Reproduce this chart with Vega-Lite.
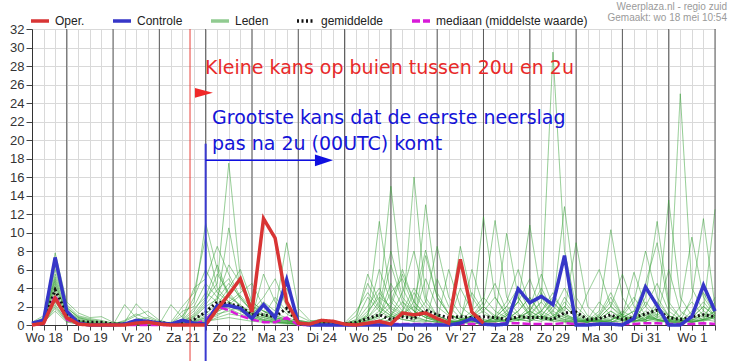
{
  "$schema": "https://vega.github.io/schema/vega-lite/v6.json",
  "width": 683,
  "height": 296,
  "autosize": {"type": "none"},
  "padding": {"left": 32, "top": 29, "right": 21, "bottom": 36},
  "background": "white",
  "config": {
    "view": {"stroke": "#555", "strokeWidth": 1},
    "font": "Liberation Sans",
    "axis": {
      "gridColor": "#d9d9d9",
      "gridOpacity": 1,
      "domainColor": "#333",
      "tickColor": "#444",
      "labelFont": "Liberation Sans",
      "labelFontSize": 13,
      "labelColor": "#333",
      "labelOverlap": false,
      "labelFlush": false
    },
    "axisX": {"labelPadding": 1},
    "axisY": {"labelPadding": 2}
  },
  "title": {
    "text": "Weerplaza.nl - regio zuid",
    "subtitle": "Gemaakt: wo 18 mei 10:54",
    "anchor": "end",
    "frame": "group",
    "font": "Liberation Sans",
    "subtitleFont": "Liberation Sans",
    "fontSize": 10,
    "fontWeight": "normal",
    "color": "#9a9a9a",
    "subtitleFontSize": 10,
    "subtitleColor": "#9a9a9a",
    "subtitlePadding": 1,
    "offset": 4,
    "dx": 12,
    "dy": 17
  },
  "data": {"values": [
    {"t":6,"oper":0,"ctrl":0.2,"gem":0.1,"med":0,"m1":0,"m2":0,"m3":0.2,"m4":0,"m5":0,"m6":0.1,"m7":0,"m8":0,"m9":0.3,"m10":0,"m11":0,"m12":0,"m13":0.1,"m14":0,"m15":0,"m16":0.2,"m17":0,"m18":0,"m19":0,"m20":0},
    {"t":12,"oper":0.2,"ctrl":0.5,"gem":0.4,"med":0.1,"m1":0.3,"m2":0.5,"m3":0.8,"m4":0.2,"m5":0.4,"m6":0.6,"m7":0.3,"m8":0.2,"m9":1.0,"m10":0.5,"m11":0.4,"m12":0.3,"m13":0.7,"m14":0.2,"m15":0.5,"m16":0.6,"m17":0.3,"m18":0.4,"m19":0.2,"m20":0.5},
    {"t":18,"oper":2.9,"ctrl":7.3,"gem":3.8,"med":3.2,"m1":3.5,"m2":5.2,"m3":7.8,"m4":2.8,"m5":4.1,"m6":6.0,"m7":3.0,"m8":1.8,"m9":4.8,"m10":5.5,"m11":2.2,"m12":3.9,"m13":6.5,"m14":2.5,"m15":4.4,"m16":3.2,"m17":1.5,"m18":5.0,"m19":2.0,"m20":4.6},
    {"t":24,"oper":0.8,"ctrl":1.5,"gem":1.2,"med":0.6,"m1":1.2,"m2":2.0,"m3":2.5,"m4":0.8,"m5":1.5,"m6":1.8,"m7":0.6,"m8":0.4,"m9":1.4,"m10":2.2,"m11":0.5,"m12":1.0,"m13":1.9,"m14":0.7,"m15":1.3,"m16":0.9,"m17":0.3,"m18":1.6,"m19":0.5,"m20":1.1},
    {"t":30,"oper":0.1,"ctrl":0.2,"gem":0.4,"med":0.1,"m1":0.4,"m2":0.8,"m3":1.3,"m4":0.2,"m5":0.6,"m6":0.9,"m7":0.2,"m8":0.1,"m9":0.5,"m10":1.0,"m11":0.2,"m12":0.4,"m13":0.8,"m14":0.2,"m15":0.5,"m16":0.3,"m17":0.1,"m18":0.7,"m19":0.2,"m20":0.4},
    {"t":36,"oper":0,"ctrl":0,"gem":0.3,"med":0,"m1":0.2,"m2":0.5,"m3":0.8,"m4":0.1,"m5":0.3,"m6":0.6,"m7":0.1,"m8":0,"m9":0.3,"m10":0.7,"m11":0.1,"m12":0.2,"m13":0.5,"m14":0.1,"m15":0.2,"m16":0.2,"m17":0,"m18":0.4,"m19":0.1,"m20":0.2},
    {"t":42,"oper":0,"ctrl":0,"gem":0.3,"med":0,"m1":0.1,"m2":0.3,"m3":0.9,"m4":0,"m5":0.2,"m6":0.4,"m7":0,"m8":0,"m9":0.1,"m10":0.5,"m11":0,"m12":0.1,"m13":0.3,"m14":0,"m15":0.1,"m16":0.1,"m17":0,"m18":0.2,"m19":0,"m20":0.1},
    {"t":48,"oper":0,"ctrl":0,"gem":0.1,"med":0,"m1":0,"m2":0.1,"m3":0.3,"m4":0,"m5":0.1,"m6":0.2,"m7":0,"m8":0,"m9":0,"m10":0.2,"m11":0,"m12":0,"m13":0.1,"m14":0,"m15":0,"m16":0,"m17":0,"m18":0.1,"m19":0,"m20":0},
    {"t":54,"oper":0,"ctrl":0.1,"gem":0.1,"med":0,"m1":0,"m2":0,"m3":0.2,"m4":0,"m5":0,"m6":0.1,"m7":0,"m8":2.2,"m9":0,"m10":0.3,"m11":0,"m12":0,"m13":0.5,"m14":0,"m15":0,"m16":0,"m17":0,"m18":0.4,"m19":0,"m20":0},
    {"t":60,"oper":0.2,"ctrl":0.5,"gem":0.2,"med":0,"m1":0.1,"m2":0.3,"m3":0.5,"m4":0,"m5":0.2,"m6":0.6,"m7":0,"m8":0.8,"m9":0.2,"m10":2.3,"m11":0.1,"m12":0.3,"m13":1.2,"m14":0,"m15":0.4,"m16":0.2,"m17":0,"m18":1.0,"m19":0.1,"m20":0.3},
    {"t":66,"oper":0.3,"ctrl":0.4,"gem":0.3,"med":0,"m1":0.2,"m2":0.5,"m3":0.4,"m4":0.1,"m5":0.3,"m6":0.8,"m7":0,"m8":0.3,"m9":0.3,"m10":1.0,"m11":0.2,"m12":0.4,"m13":0.6,"m14":0.1,"m15":0.5,"m16":0.3,"m17":0.1,"m18":1.5,"m19":0.2,"m20":0.4},
    {"t":72,"oper":0.1,"ctrl":0.2,"gem":0.3,"med":0,"m1":0.1,"m2":0.2,"m3":0.2,"m4":0,"m5":0.1,"m6":0.3,"m7":0,"m8":0.1,"m9":0.1,"m10":0.4,"m11":0.1,"m12":0.2,"m13":0.2,"m14":0,"m15":0.2,"m16":0.1,"m17":0,"m18":0.5,"m19":0.1,"m20":0.2},
    {"t":78,"oper":0,"ctrl":0.1,"gem":0.1,"med":0,"m1":0,"m2":0.1,"m3":0.1,"m4":0,"m5":0,"m6":0.2,"m7":0,"m8":0,"m9":2.2,"m10":0.1,"m11":0,"m12":0.1,"m13":0.1,"m14":0,"m15":0.3,"m16":0,"m17":0,"m18":0.2,"m19":0,"m20":0.1},
    {"t":84,"oper":0,"ctrl":0.5,"gem":0.2,"med":0,"m1":0.2,"m2":0.4,"m3":0.6,"m4":0.1,"m5":0.3,"m6":1.0,"m7":0.1,"m8":0,"m9":0.8,"m10":0.5,"m11":0.2,"m12":0.4,"m13":1.5,"m14":0.1,"m15":2.0,"m16":0.3,"m17":0.1,"m18":0.6,"m19":0.2,"m20":0.4},
    {"t":90,"oper":0,"ctrl":0.2,"gem":0.6,"med":0.1,"m1":0.5,"m2":1.2,"m3":3.0,"m4":0.2,"m5":0.8,"m6":2.5,"m7":0.3,"m8":0.1,"m9":4.0,"m10":1.5,"m11":0.4,"m12":1.0,"m13":2.0,"m14":0.3,"m15":3.5,"m16":0.6,"m17":0.2,"m18":1.8,"m19":0.4,"m20":0.9},
    {"t":96,"oper":0,"ctrl":0.1,"gem":1.4,"med":0.5,"m1":1.5,"m2":2.8,"m3":6.0,"m4":0.5,"m5":2.0,"m6":11.0,"m7":0.8,"m8":0.3,"m9":5.0,"m10":3.5,"m11":1.0,"m12":2.5,"m13":4.5,"m14":0.6,"m15":9.5,"m16":1.2,"m17":0.4,"m18":3.0,"m19":0.8,"m20":2.2},
    {"t":102,"oper":1.7,"ctrl":2.1,"gem":2.5,"med":2.0,"m1":3.0,"m2":4.5,"m3":3.5,"m4":1.2,"m5":2.8,"m6":6.0,"m7":1.5,"m8":0.8,"m9":8.5,"m10":2.5,"m11":1.8,"m12":5.5,"m13":3.0,"m14":1.0,"m15":4.0,"m16":2.2,"m17":0.6,"m18":6.5,"m19":1.4,"m20":3.8},
    {"t":108,"oper":3.3,"ctrl":2.1,"gem":2.3,"med":1.6,"m1":2.0,"m2":17.5,"m3":2.5,"m4":1.5,"m5":4.5,"m6":3.0,"m7":2.0,"m8":1.2,"m9":5.5,"m10":10.5,"m11":2.5,"m12":3.5,"m13":6.5,"m14":1.8,"m15":2.5,"m16":4.0,"m17":0.8,"m18":3.2,"m19":2.2,"m20":5.0},
    {"t":114,"oper":5.0,"ctrl":1.8,"gem":2.0,"med":1.0,"m1":1.5,"m2":5.0,"m3":1.8,"m4":2.0,"m5":3.0,"m6":2.2,"m7":1.8,"m8":1.0,"m9":3.0,"m10":4.0,"m11":3.5,"m12":2.0,"m13":4.5,"m14":1.2,"m15":1.5,"m16":6.0,"m17":0.6,"m18":2.0,"m19":3.2,"m20":2.8},
    {"t":120,"oper":1.4,"ctrl":0.7,"gem":1.1,"med":0.6,"m1":0.8,"m2":2.0,"m3":1.0,"m4":1.5,"m5":1.5,"m6":1.0,"m7":1.2,"m8":0.6,"m9":1.5,"m10":2.5,"m11":4.5,"m12":1.0,"m13":2.0,"m14":0.8,"m15":0.8,"m16":2.5,"m17":0.4,"m18":1.2,"m19":1.8,"m20":1.5},
    {"t":126,"oper":11.5,"ctrl":2.2,"gem":1.1,"med":0.3,"m1":0.5,"m2":1.5,"m3":0.8,"m4":3.0,"m5":1.0,"m6":0.6,"m7":2.5,"m8":0.4,"m9":1.0,"m10":1.5,"m11":2.0,"m12":0.6,"m13":1.2,"m14":5.5,"m15":0.5,"m16":1.5,"m17":0.3,"m18":0.8,"m19":1.0,"m20":1.0},
    {"t":132,"oper":9.4,"ctrl":0.8,"gem":0.9,"med":0.3,"m1":0.3,"m2":1.0,"m3":0.5,"m4":5.0,"m5":0.8,"m6":0.4,"m7":1.5,"m8":0.3,"m9":0.6,"m10":1.0,"m11":1.2,"m12":0.4,"m13":0.8,"m14":2.5,"m15":0.3,"m16":0.8,"m17":0.2,"m18":0.5,"m19":0.6,"m20":3.0},
    {"t":138,"oper":2.5,"ctrl":4.9,"gem":1.8,"med":0.8,"m1":0.2,"m2":0.6,"m3":0.3,"m4":2.0,"m5":0.5,"m6":0.2,"m7":8.9,"m8":0.2,"m9":0.4,"m10":0.6,"m11":0.8,"m12":0.3,"m13":0.5,"m14":1.2,"m15":0.2,"m16":0.5,"m17":0.1,"m18":4.0,"m19":0.4,"m20":1.5},
    {"t":144,"oper":0.2,"ctrl":0.2,"gem":0.2,"med":0,"m1":0.1,"m2":0.3,"m3":0.2,"m4":0.5,"m5":0.2,"m6":0.1,"m7":1.8,"m8":0.1,"m9":0.2,"m10":0.3,"m11":0.4,"m12":0.1,"m13":0.2,"m14":0.5,"m15":0.1,"m16":0.2,"m17":0,"m18":1.0,"m19":0.2,"m20":0.5},
    {"t":150,"oper":0.1,"ctrl":0,"gem":0.1,"med":0,"m1":0,"m2":0.2,"m3":0.1,"m4":0.3,"m5":0.1,"m6":0,"m7":0.5,"m8":0,"m9":0.1,"m10":0.2,"m11":0.2,"m12":0.1,"m13":0.1,"m14":0.3,"m15":0,"m16":0.1,"m17":0,"m18":0.4,"m19":0.1,"m20":0.2},
    {"t":156,"oper":0.5,"ctrl":0,"gem":0.2,"med":0,"m1":0.1,"m2":0.5,"m3":0.2,"m4":0.6,"m5":0.2,"m6":0.1,"m7":0.3,"m8":0,"m9":0.2,"m10":0.4,"m11":0.3,"m12":0.2,"m13":0.2,"m14":0.5,"m15":0.1,"m16":0.3,"m17":0,"m18":0.6,"m19":0.2,"m20":0.3},
    {"t":162,"oper":0.4,"ctrl":0,"gem":0.2,"med":0,"m1":0.1,"m2":0.4,"m3":0.3,"m4":0.4,"m5":0.3,"m6":0.2,"m7":0.2,"m8":0.1,"m9":0.3,"m10":0.5,"m11":0.2,"m12":0.3,"m13":0.3,"m14":0.4,"m15":0.1,"m16":0.2,"m17":0.1,"m18":0.3,"m19":0.3,"m20":0.4},
    {"t":168,"oper":0.1,"ctrl":0,"gem":0.1,"med":0,"m1":0,"m2":0.2,"m3":0.1,"m4":0.2,"m5":0.1,"m6":0.1,"m7":0.1,"m8":0,"m9":0.1,"m10":0.2,"m11":0.1,"m12":0.1,"m13":0.1,"m14":0.2,"m15":0,"m16":0.1,"m17":0,"m18":0.2,"m19":0.1,"m20":0.1},
    {"t":174,"oper":0,"ctrl":0,"gem":0.3,"med":0,"m1":0,"m2":0.3,"m3":0.1,"m4":0.5,"m5":0.2,"m6":1.0,"m7":0.1,"m8":0,"m9":0.2,"m10":0.4,"m11":0.1,"m12":0.6,"m13":0.1,"m14":0.3,"m15":0,"m16":0.2,"m17":0,"m18":1.5,"m19":0.1,"m20":0.2},
    {"t":180,"oper":0.2,"ctrl":0,"gem":0.7,"med":0.1,"m1":0.2,"m2":1.5,"m3":0.5,"m4":3.0,"m5":0.8,"m6":4.5,"m7":0.3,"m8":0.1,"m9":1.0,"m10":2.0,"m11":0.4,"m12":5.5,"m13":0.6,"m14":1.0,"m15":0.2,"m16":0.8,"m17":0.1,"m18":3.5,"m19":0.5,"m20":1.2},
    {"t":186,"oper":0.4,"ctrl":0,"gem":1.1,"med":0.1,"m1":0.5,"m2":3.0,"m3":1.0,"m4":1.5,"m5":2.5,"m6":2.0,"m7":0.8,"m8":0.2,"m9":11.2,"m10":4.0,"m11":1.0,"m12":2.5,"m13":1.5,"m14":6.0,"m15":0.5,"m16":2.0,"m17":0.3,"m18":1.8,"m19":1.2,"m20":3.5},
    {"t":192,"oper":0.1,"ctrl":0,"gem":0.6,"med":0.1,"m1":1.0,"m2":2.0,"m3":3.5,"m4":0.8,"m5":15.0,"m6":1.0,"m7":2.0,"m8":0.5,"m9":3.0,"m10":1.5,"m11":4.5,"m12":1.2,"m13":6.5,"m14":2.5,"m15":1.0,"m16":8.0,"m17":0.6,"m18":1.0,"m19":2.5,"m20":1.8},
    {"t":198,"oper":1.3,"ctrl":0,"gem":0.9,"med":0.1,"m1":2.5,"m2":1.2,"m3":5.0,"m4":1.5,"m5":4.0,"m6":0.6,"m7":5.5,"m8":1.0,"m9":1.5,"m10":0.8,"m11":2.0,"m12":0.8,"m13":2.5,"m14":1.2,"m15":3.5,"m16":3.0,"m17":1.2,"m18":0.6,"m19":6.0,"m20":1.0},
    {"t":204,"oper":1.1,"ctrl":0,"gem":0.7,"med":0.1,"m1":1.5,"m2":0.8,"m3":2.0,"m4":4.0,"m5":1.5,"m6":0.4,"m7":2.5,"m8":2.5,"m9":0.8,"m10":16.0,"m11":1.0,"m12":3.5,"m13":1.0,"m14":0.8,"m15":8.0,"m16":1.5,"m17":2.0,"m18":0.4,"m19":2.5,"m20":0.6},
    {"t":210,"oper":1.3,"ctrl":0,"gem":1.6,"med":0.1,"m1":0.8,"m2":5.0,"m3":1.0,"m4":2.0,"m5":0.8,"m6":7.5,"m7":1.2,"m8":8.1,"m9":0.5,"m10":3.0,"m11":2.5,"m12":1.5,"m13":0.5,"m14":13.0,"m15":2.5,"m16":0.8,"m17":1.0,"m18":0.3,"m19":1.0,"m20":0.4},
    {"t":216,"oper":0.7,"ctrl":0,"gem":1.1,"med":0.1,"m1":0.4,"m2":2.0,"m3":0.5,"m4":1.0,"m5":0.5,"m6":3.0,"m7":0.6,"m8":3.0,"m9":0.3,"m10":1.0,"m11":8.5,"m12":0.6,"m13":0.3,"m14":3.5,"m15":1.0,"m16":0.4,"m17":0.5,"m18":5.0,"m19":0.5,"m20":0.3},
    {"t":222,"oper":0.2,"ctrl":0,"gem":0.8,"med":0,"m1":0.3,"m2":1.0,"m3":6.0,"m4":0.5,"m5":0.3,"m6":1.2,"m7":0.4,"m8":1.2,"m9":0.2,"m10":0.5,"m11":3.0,"m12":0.4,"m13":0.2,"m14":1.2,"m15":0.5,"m16":0.3,"m17":0.3,"m18":2.0,"m19":0.3,"m20":0.2},
    {"t":228,"oper":7.1,"ctrl":0.2,"gem":0.9,"med":0.1,"m1":0.5,"m2":0.6,"m3":2.0,"m4":8.5,"m5":0.4,"m6":0.6,"m7":0.8,"m8":0.6,"m9":0.4,"m10":0.3,"m11":1.2,"m12":0.3,"m13":4.0,"m14":0.6,"m15":0.3,"m16":0.5,"m17":0.2,"m18":0.8,"m19":0.5,"m20":0.4},
    {"t":234,"oper":1.4,"ctrl":0.7,"gem":0.8,"med":0.1,"m1":1.5,"m2":0.4,"m3":1.0,"m4":3.0,"m5":0.8,"m6":0.4,"m7":3.5,"m8":0.4,"m9":1.0,"m10":0.2,"m11":0.6,"m12":0.2,"m13":1.5,"m14":0.4,"m15":6.0,"m16":1.0,"m17":0.2,"m18":0.5,"m19":1.0,"m20":0.8},
    {"t":240,"oper":0.2,"ctrl":0.1,"gem":0.9,"med":0.1,"m1":3.0,"m2":0.3,"m3":0.5,"m4":1.2,"m5":2.0,"m6":0.3,"m7":1.5,"m8":0.3,"m9":11.7,"m10":0.2,"m11":0.4,"m12":0.2,"m13":0.6,"m14":0.3,"m15":2.0,"m16":2.5,"m17":0.1,"m18":0.3,"m19":2.0,"m20":1.5},
    {"t":246,"oper":null,"ctrl":0,"gem":0.8,"med":0.1,"m1":1.5,"m2":0.8,"m3":0.3,"m4":0.6,"m5":4.5,"m6":0.5,"m7":0.6,"m8":0.8,"m9":3.0,"m10":0.4,"m11":0.3,"m12":1.0,"m13":0.4,"m14":0.6,"m15":0.8,"m16":11.3,"m17":0.4,"m18":0.8,"m19":1.0,"m20":3.0},
    {"t":252,"oper":null,"ctrl":0.1,"gem":0.6,"med":0.2,"m1":0.8,"m2":2.0,"m3":0.6,"m4":0.4,"m5":1.5,"m6":1.2,"m7":0.3,"m8":9.9,"m9":1.0,"m10":1.0,"m11":0.6,"m12":2.5,"m13":0.3,"m14":1.5,"m15":0.4,"m16":3.0,"m17":1.0,"m18":2.0,"m19":0.5,"m20":1.2},
    {"t":258,"oper":null,"ctrl":3.9,"gem":0.9,"med":0.2,"m1":0.5,"m2":4.0,"m3":1.5,"m4":0.8,"m5":0.6,"m6":2.5,"m7":0.5,"m8":3.0,"m9":0.5,"m10":2.5,"m11":1.5,"m12":6.0,"m13":0.6,"m14":3.0,"m15":0.8,"m16":1.2,"m17":2.5,"m18":1.0,"m19":0.8,"m20":0.6},
    {"t":264,"oper":null,"ctrl":2.4,"gem":0.8,"med":0.1,"m1":1.2,"m2":1.5,"m3":3.0,"m4":1.5,"m5":0.4,"m6":10.8,"m7":1.0,"m8":1.2,"m9":0.8,"m10":1.0,"m11":3.0,"m12":2.0,"m13":1.5,"m14":1.0,"m15":2.0,"m16":0.6,"m17":5.0,"m18":0.6,"m19":1.5,"m20":0.4},
    {"t":270,"oper":null,"ctrl":3.1,"gem":0.8,"med":0.1,"m1":2.5,"m2":0.8,"m3":1.0,"m4":4.0,"m5":1.0,"m6":3.0,"m7":2.5,"m8":0.6,"m9":1.5,"m10":0.6,"m11":1.2,"m12":1.0,"m13":3.5,"m14":0.6,"m15":5.5,"m16":0.4,"m17":1.5,"m18":1.5,"m19":0.8,"m20":1.0},
    {"t":276,"oper":null,"ctrl":2.2,"gem":0.6,"med":0.1,"m1":1.0,"m2":0.5,"m3":0.6,"m4":1.5,"m5":2.5,"m6":1.0,"m7":29.5,"m8":0.4,"m9":3.0,"m10":2.0,"m11":0.6,"m12":0.5,"m13":1.2,"m14":1.5,"m15":2.0,"m16":1.0,"m17":0.8,"m18":3.5,"m19":0.5,"m20":2.5},
    {"t":282,"oper":null,"ctrl":7.5,"gem":1.3,"med":0.2,"m1":0.6,"m2":3.0,"m3":0.4,"m4":0.8,"m5":1.2,"m6":0.6,"m7":8.0,"m8":0.3,"m9":1.5,"m10":12.8,"m11":0.4,"m12":2.5,"m13":0.8,"m14":4.0,"m15":1.0,"m16":2.0,"m17":0.5,"m18":1.2,"m19":2.0,"m20":1.0},
    {"t":288,"oper":null,"ctrl":0,"gem":1.4,"med":0.1,"m1":0.4,"m2":1.2,"m3":0.3,"m4":0.5,"m5":0.6,"m6":0.4,"m7":2.0,"m8":0.2,"m9":8.9,"m10":3.0,"m11":0.3,"m12":1.0,"m13":0.5,"m14":1.5,"m15":0.6,"m16":0.8,"m17":0.3,"m18":0.6,"m19":0.8,"m20":0.5},
    {"t":294,"oper":null,"ctrl":0,"gem":0.6,"med":0.1,"m1":0.3,"m2":0.6,"m3":0.5,"m4":0.3,"m5":0.4,"m6":0.3,"m7":0.8,"m8":0.3,"m9":2.0,"m10":1.0,"m11":0.6,"m12":0.5,"m13":0.3,"m14":0.6,"m15":0.4,"m16":0.4,"m17":3.5,"m18":0.4,"m19":0.5,"m20":0.3},
    {"t":300,"oper":null,"ctrl":0.1,"gem":0.7,"med":0.1,"m1":0.5,"m2":0.4,"m3":1.5,"m4":0.8,"m5":0.3,"m6":1.0,"m7":0.5,"m8":1.0,"m9":0.8,"m10":0.5,"m11":2.5,"m12":0.3,"m13":0.6,"m14":0.4,"m15":1.2,"m16":0.8,"m17":6.0,"m18":0.3,"m19":0.4,"m20":0.6},
    {"t":306,"oper":null,"ctrl":0.1,"gem":1.1,"med":0.1,"m1":1.0,"m2":0.3,"m3":10.3,"m4":2.0,"m5":0.5,"m6":3.0,"m7":0.4,"m8":2.5,"m9":0.5,"m10":0.3,"m11":1.0,"m12":0.5,"m13":1.5,"m14":0.3,"m15":3.5,"m16":2.0,"m17":2.0,"m18":0.6,"m19":0.8,"m20":1.5},
    {"t":312,"oper":null,"ctrl":0,"gem":0.6,"med":0.1,"m1":0.6,"m2":0.8,"m3":3.0,"m4":1.0,"m5":1.2,"m6":1.0,"m7":0.3,"m8":1.0,"m9":1.2,"m10":0.8,"m11":0.5,"m12":1.5,"m13":0.6,"m14":0.5,"m15":1.0,"m16":5.5,"m17":0.8,"m18":1.0,"m19":0.5,"m20":0.8},
    {"t":318,"oper":null,"ctrl":0.7,"gem":0.8,"med":0.1,"m1":0.4,"m2":1.5,"m3":1.0,"m4":5.7,"m5":0.6,"m6":0.5,"m7":0.8,"m8":0.5,"m9":3.0,"m10":1.5,"m11":0.3,"m12":0.8,"m13":0.4,"m14":1.0,"m15":0.5,"m16":2.0,"m17":0.4,"m18":2.5,"m19":0.3,"m20":0.5},
    {"t":324,"oper":null,"ctrl":4.1,"gem":1.2,"med":0.2,"m1":0.8,"m2":0.6,"m3":0.5,"m4":2.0,"m5":3.0,"m6":1.2,"m7":2.0,"m8":0.4,"m9":1.0,"m10":4.5,"m11":0.6,"m12":0.4,"m13":2.5,"m14":0.6,"m15":1.5,"m16":0.8,"m17":0.6,"m18":8.0,"m19":1.0,"m20":0.4},
    {"t":330,"oper":null,"ctrl":2.1,"gem":1.6,"med":0.2,"m1":0.5,"m2":2.0,"m3":0.4,"m4":0.8,"m5":11.2,"m6":0.6,"m7":4.5,"m8":1.0,"m9":0.6,"m10":8.9,"m11":1.2,"m12":0.8,"m13":1.0,"m14":2.5,"m15":0.6,"m16":0.5,"m17":1.5,"m18":3.0,"m19":0.6,"m20":2.0},
    {"t":336,"oper":null,"ctrl":0,"gem":0.8,"med":0.1,"m1":0.3,"m2":1.0,"m3":0.3,"m4":0.5,"m5":2.5,"m6":0.4,"m7":1.5,"m8":6.0,"m9":0.4,"m10":2.0,"m11":0.6,"m12":13.5,"m13":0.5,"m14":1.0,"m15":0.4,"m16":0.3,"m17":0.6,"m18":1.0,"m19":0.3,"m20":0.8},
    {"t":342,"oper":null,"ctrl":0,"gem":0.6,"med":0.1,"m1":0.2,"m2":0.5,"m3":25.0,"m4":0.3,"m5":0.8,"m6":0.3,"m7":0.6,"m8":1.5,"m9":1.0,"m10":0.8,"m11":0.4,"m12":3.0,"m13":0.3,"m14":0.5,"m15":0.2,"m16":0.2,"m17":0.4,"m18":0.5,"m19":2.0,"m20":0.4},
    {"t":348,"oper":null,"ctrl":0.9,"gem":0.9,"med":0.1,"m1":0.5,"m2":0.3,"m3":4.0,"m4":0.8,"m5":0.4,"m6":1.5,"m7":0.3,"m8":0.6,"m9":2.5,"m10":0.4,"m11":3.0,"m12":1.0,"m13":0.6,"m14":0.3,"m15":1.0,"m16":0.5,"m17":0.8,"m18":0.3,"m19":9.5,"m20":0.3},
    {"t":354,"oper":null,"ctrl":4.3,"gem":1.1,"med":0.2,"m1":1.2,"m2":0.5,"m3":1.5,"m4":2.0,"m5":0.6,"m6":3.5,"m7":0.6,"m8":0.4,"m9":1.0,"m10":0.8,"m11":11.5,"m12":0.6,"m13":1.5,"m14":0.6,"m15":2.5,"m16":1.0,"m17":2.0,"m18":0.5,"m19":3.0,"m20":0.6},
    {"t":360,"oper":null,"ctrl":1.5,"gem":0.9,"med":0.1,"m1":0.8,"m2":1.0,"m3":0.8,"m4":1.0,"m5":1.5,"m6":1.2,"m7":1.0,"m8":0.8,"m9":0.6,"m10":1.5,"m11":2.0,"m12":0.4,"m13":12.5,"m14":1.0,"m15":1.0,"m16":2.5,"m17":1.0,"m18":0.8,"m19":1.2,"m20":3.0}
  ]},
  "layer": [
    {
      "data": {"values": [{"t":24},{"t":48},{"t":72},{"t":96},{"t":120},{"t":144},{"t":168},{"t":192},{"t":216},{"t":240},{"t":264},{"t":288},{"t":312},{"t":336},{"t":360}]},
      "mark": {"type": "rule", "color": "#5a5a5a", "strokeWidth": 1},
      "encoding": {
        "x": {"field": "t", "type": "quantitative", "title": null, "scale": {"domain": [6, 360], "nice": false, "zero": false},
          "axis": {"grid": true, "ticks": true, "tickSize": 5, "values": [6,12,18,24,30,36,42,48,54,60,66,72,78,84,90,96,102,108,114,120,126,132,138,144,150,156,162,168,174,180,186,192,198,204,210,216,222,228,234,240,246,252,258,264,270,276,282,288,294,300,306,312,318,324,330,336,342,348,354,360], "labelExpr": "datum.value % 24 == 12 ? ['Wo 18','Do 19','Vr 20','Za 21','Zo 22','Ma 23','Di 24','Wo 25','Do 26','Vr 27','Za 28','Zo 29','Ma 30','Di 31','Wo 1'][floor(datum.value / 24)] : ''"}}
      }
    },
    {
      "transform": [{"fold": ["m1","m2","m3","m4","m5","m6","m7","m8","m9","m10","m11","m12","m13","m14","m15","m16","m17","m18","m19","m20"], "as": ["lid", "v"]}],
      "mark": {"type": "line", "strokeWidth": 1},
      "encoding": {
        "x": {"field": "t", "type": "quantitative", "title": null, "scale": {"domain": [6, 360], "nice": false, "zero": false},
          "axis": {"grid": true, "ticks": true, "tickSize": 5, "values": [6,12,18,24,30,36,42,48,54,60,66,72,78,84,90,96,102,108,114,120,126,132,138,144,150,156,162,168,174,180,186,192,198,204,210,216,222,228,234,240,246,252,258,264,270,276,282,288,294,300,306,312,318,324,330,336,342,348,354,360], "labelExpr": "datum.value % 24 == 12 ? ['Wo 18','Do 19','Vr 20','Za 21','Zo 22','Ma 23','Di 24','Wo 25','Do 26','Vr 27','Za 28','Zo 29','Ma 30','Di 31','Wo 1'][floor(datum.value / 24)] : ''"}},
        "y": {"field": "v", "type": "quantitative", "title": null, "scale": {"domain": [0, 32], "nice": false},
          "axis": {"grid": true, "ticks": true, "tickSize": 6, "values": [0,2,4,6,8,10,12,14,16,18,20,22,24,26,28,30,32]}},
        "detail": {"field": "lid"},
        "color": {
          "datum": "Leden",
          "type": "nominal",
          "scale": {
            "domain": ["Oper.", "Controle", "Leden", "gemiddelde", "mediaan (middelste waarde)"],
            "range": ["#d83434", "#3636c8", "rgba(55,160,55,0.55)", "#111111", "#d81ad8"]
          },
          "legend": {
            "title": null,
            "orient": "none",
            "legendX": -3,
            "legendY": -19,
            "direction": "horizontal",
            "padding": 0,
            "symbolType": "stroke",
            "symbolSize": 324,
            "symbolStrokeWidth": 3.5,
            "columnPadding": 21,
            "labelOffset": 4,
            "labelFont": "Liberation Sans",
            "labelFontSize": 12,
            "labelColor": "#222"
          }
        },
        "strokeDash": {
          "datum": "Leden",
          "type": "nominal",
          "scale": {
            "domain": ["Oper.", "Controle", "Leden", "gemiddelde", "mediaan (middelste waarde)"],
            "range": [[1, 0], [1, 0], [1, 0], [2, 2.5], [8, 3]]
          }
        }
      }
    },
    {
      "mark": {"type": "line", "strokeWidth": 3},
      "encoding": {
        "x": {"field": "t", "type": "quantitative", "title": null, "scale": {"domain": [6, 360], "nice": false, "zero": false},
          "axis": {"grid": true, "ticks": true, "tickSize": 5, "values": [6,12,18,24,30,36,42,48,54,60,66,72,78,84,90,96,102,108,114,120,126,132,138,144,150,156,162,168,174,180,186,192,198,204,210,216,222,228,234,240,246,252,258,264,270,276,282,288,294,300,306,312,318,324,330,336,342,348,354,360], "labelExpr": "datum.value % 24 == 12 ? ['Wo 18','Do 19','Vr 20','Za 21','Zo 22','Ma 23','Di 24','Wo 25','Do 26','Vr 27','Za 28','Zo 29','Ma 30','Di 31','Wo 1'][floor(datum.value / 24)] : ''"}},
        "y": {"field": "gem", "type": "quantitative", "title": null, "scale": {"domain": [0, 32], "nice": false},
          "axis": {"grid": true, "ticks": true, "tickSize": 6, "values": [0,2,4,6,8,10,12,14,16,18,20,22,24,26,28,30,32]}},
        "color": {"datum": "gemiddelde", "type": "nominal"},
        "strokeDash": {"datum": "gemiddelde", "type": "nominal"}
      }
    },
    {
      "mark": {"type": "line", "strokeWidth": 2.5},
      "encoding": {
        "x": {"field": "t", "type": "quantitative", "title": null, "scale": {"domain": [6, 360], "nice": false, "zero": false},
          "axis": {"grid": true, "ticks": true, "tickSize": 5, "values": [6,12,18,24,30,36,42,48,54,60,66,72,78,84,90,96,102,108,114,120,126,132,138,144,150,156,162,168,174,180,186,192,198,204,210,216,222,228,234,240,246,252,258,264,270,276,282,288,294,300,306,312,318,324,330,336,342,348,354,360], "labelExpr": "datum.value % 24 == 12 ? ['Wo 18','Do 19','Vr 20','Za 21','Zo 22','Ma 23','Di 24','Wo 25','Do 26','Vr 27','Za 28','Zo 29','Ma 30','Di 31','Wo 1'][floor(datum.value / 24)] : ''"}},
        "y": {"field": "med", "type": "quantitative", "title": null, "scale": {"domain": [0, 32], "nice": false},
          "axis": {"grid": true, "ticks": true, "tickSize": 6, "values": [0,2,4,6,8,10,12,14,16,18,20,22,24,26,28,30,32]}},
        "color": {"datum": "mediaan (middelste waarde)", "type": "nominal"},
        "strokeDash": {"datum": "mediaan (middelste waarde)", "type": "nominal"}
      }
    },
    {
      "mark": {"type": "line", "strokeWidth": 3.5},
      "encoding": {
        "x": {"field": "t", "type": "quantitative", "title": null, "scale": {"domain": [6, 360], "nice": false, "zero": false},
          "axis": {"grid": true, "ticks": true, "tickSize": 5, "values": [6,12,18,24,30,36,42,48,54,60,66,72,78,84,90,96,102,108,114,120,126,132,138,144,150,156,162,168,174,180,186,192,198,204,210,216,222,228,234,240,246,252,258,264,270,276,282,288,294,300,306,312,318,324,330,336,342,348,354,360], "labelExpr": "datum.value % 24 == 12 ? ['Wo 18','Do 19','Vr 20','Za 21','Zo 22','Ma 23','Di 24','Wo 25','Do 26','Vr 27','Za 28','Zo 29','Ma 30','Di 31','Wo 1'][floor(datum.value / 24)] : ''"}},
        "y": {"field": "ctrl", "type": "quantitative", "title": null, "scale": {"domain": [0, 32], "nice": false},
          "axis": {"grid": true, "ticks": true, "tickSize": 6, "values": [0,2,4,6,8,10,12,14,16,18,20,22,24,26,28,30,32]}},
        "color": {"datum": "Controle", "type": "nominal"},
        "strokeDash": {"datum": "Controle", "type": "nominal"}
      }
    },
    {
      "mark": {"type": "line", "strokeWidth": 3.5},
      "encoding": {
        "x": {"field": "t", "type": "quantitative", "title": null, "scale": {"domain": [6, 360], "nice": false, "zero": false},
          "axis": {"grid": true, "ticks": true, "tickSize": 5, "values": [6,12,18,24,30,36,42,48,54,60,66,72,78,84,90,96,102,108,114,120,126,132,138,144,150,156,162,168,174,180,186,192,198,204,210,216,222,228,234,240,246,252,258,264,270,276,282,288,294,300,306,312,318,324,330,336,342,348,354,360], "labelExpr": "datum.value % 24 == 12 ? ['Wo 18','Do 19','Vr 20','Za 21','Zo 22','Ma 23','Di 24','Wo 25','Do 26','Vr 27','Za 28','Zo 29','Ma 30','Di 31','Wo 1'][floor(datum.value / 24)] : ''"}},
        "y": {"field": "oper", "type": "quantitative", "title": null, "scale": {"domain": [0, 32], "nice": false},
          "axis": {"grid": true, "ticks": true, "tickSize": 6, "values": [0,2,4,6,8,10,12,14,16,18,20,22,24,26,28,30,32]}},
        "color": {"datum": "Oper.", "type": "nominal"},
        "strokeDash": {"datum": "Oper.", "type": "nominal"}
      }
    },
    {
      "data": {"values": [{}]},
      "mark": {"type": "rule", "color": "#e8403a", "strokeWidth": 1},
      "encoding": {
        "x": {"datum": 87.9, "type": "quantitative", "title": null,
          "axis": {"grid": true, "ticks": true, "tickSize": 5, "values": [6,12,18,24,30,36,42,48,54,60,66,72,78,84,90,96,102,108,114,120,126,132,138,144,150,156,162,168,174,180,186,192,198,204,210,216,222,228,234,240,246,252,258,264,270,276,282,288,294,300,306,312,318,324,330,336,342,348,354,360], "labelExpr": "datum.value % 24 == 12 ? ['Wo 18','Do 19','Vr 20','Za 21','Zo 22','Ma 23','Di 24','Wo 25','Do 26','Vr 27','Za 28','Zo 29','Ma 30','Di 31','Wo 1'][floor(datum.value / 24)] : ''"}},
        "y": {"datum": 32, "type": "quantitative", "title": null,
          "axis": {"grid": true, "ticks": true, "tickSize": 6, "values": [0,2,4,6,8,10,12,14,16,18,20,22,24,26,28,30,32]}},
        "y2": {"datum": -3.9}
      }
    },
    {
      "data": {"values": [{}]},
      "mark": {"type": "rule", "color": "#3a3ad0", "strokeWidth": 2},
      "encoding": {
        "x": {"datum": 96, "type": "quantitative", "title": null,
          "axis": {"grid": true, "ticks": true, "tickSize": 5, "values": [6,12,18,24,30,36,42,48,54,60,66,72,78,84,90,96,102,108,114,120,126,132,138,144,150,156,162,168,174,180,186,192,198,204,210,216,222,228,234,240,246,252,258,264,270,276,282,288,294,300,306,312,318,324,330,336,342,348,354,360], "labelExpr": "datum.value % 24 == 12 ? ['Wo 18','Do 19','Vr 20','Za 21','Zo 22','Ma 23','Di 24','Wo 25','Do 26','Vr 27','Za 28','Zo 29','Ma 30','Di 31','Wo 1'][floor(datum.value / 24)] : ''"}},
        "y": {"datum": 19.6, "type": "quantitative", "title": null,
          "axis": {"grid": true, "ticks": true, "tickSize": 6, "values": [0,2,4,6,8,10,12,14,16,18,20,22,24,26,28,30,32]}},
        "y2": {"datum": -3.9}
      }
    },
    {
      "data": {"values": [{}]},
      "mark": {"type": "rule", "color": "#1010e0", "strokeWidth": 1.5},
      "encoding": {
        "x": {"datum": 96, "type": "quantitative", "title": null,
          "axis": {"grid": true, "ticks": true, "tickSize": 5, "values": [6,12,18,24,30,36,42,48,54,60,66,72,78,84,90,96,102,108,114,120,126,132,138,144,150,156,162,168,174,180,186,192,198,204,210,216,222,228,234,240,246,252,258,264,270,276,282,288,294,300,306,312,318,324,330,336,342,348,354,360], "labelExpr": "datum.value % 24 == 12 ? ['Wo 18','Do 19','Vr 20','Za 21','Zo 22','Ma 23','Di 24','Wo 25','Do 26','Vr 27','Za 28','Zo 29','Ma 30','Di 31','Wo 1'][floor(datum.value / 24)] : ''"}},
        "x2": {"datum": 153},
        "y": {"datum": 17.8, "type": "quantitative", "title": null,
          "axis": {"grid": true, "ticks": true, "tickSize": 6, "values": [0,2,4,6,8,10,12,14,16,18,20,22,24,26,28,30,32]}}
      }
    },
    {
      "data": {"values": [{}]},
      "mark": {"type": "point", "shape": "M-1,-0.65L1,0L-1,0.65Z", "size": 324, "filled": true, "opacity": 1, "color": "#1010e0"},
      "encoding": {
        "x": {"datum": 157.3, "type": "quantitative", "title": null,
          "axis": {"grid": true, "ticks": true, "tickSize": 5, "values": [6,12,18,24,30,36,42,48,54,60,66,72,78,84,90,96,102,108,114,120,126,132,138,144,150,156,162,168,174,180,186,192,198,204,210,216,222,228,234,240,246,252,258,264,270,276,282,288,294,300,306,312,318,324,330,336,342,348,354,360], "labelExpr": "datum.value % 24 == 12 ? ['Wo 18','Do 19','Vr 20','Za 21','Zo 22','Ma 23','Di 24','Wo 25','Do 26','Vr 27','Za 28','Zo 29','Ma 30','Di 31','Wo 1'][floor(datum.value / 24)] : ''"}},
        "y": {"datum": 17.8, "type": "quantitative", "title": null,
          "axis": {"grid": true, "ticks": true, "tickSize": 6, "values": [0,2,4,6,8,10,12,14,16,18,20,22,24,26,28,30,32]}}
      }
    },
    {
      "data": {"values": [{}]},
      "mark": {"type": "point", "shape": "M-1,-0.55L1,0L-1,0.55Z", "size": 324, "filled": true, "opacity": 1, "color": "#f02828"},
      "encoding": {
        "x": {"datum": 95.1, "type": "quantitative", "title": null,
          "axis": {"grid": true, "ticks": true, "tickSize": 5, "values": [6,12,18,24,30,36,42,48,54,60,66,72,78,84,90,96,102,108,114,120,126,132,138,144,150,156,162,168,174,180,186,192,198,204,210,216,222,228,234,240,246,252,258,264,270,276,282,288,294,300,306,312,318,324,330,336,342,348,354,360], "labelExpr": "datum.value % 24 == 12 ? ['Wo 18','Do 19','Vr 20','Za 21','Zo 22','Ma 23','Di 24','Wo 25','Do 26','Vr 27','Za 28','Zo 29','Ma 30','Di 31','Wo 1'][floor(datum.value / 24)] : ''"}},
        "y": {"datum": 25.1, "type": "quantitative", "title": null,
          "axis": {"grid": true, "ticks": true, "tickSize": 6, "values": [0,2,4,6,8,10,12,14,16,18,20,22,24,26,28,30,32]}}
      }
    },
    {
      "data": {"values": [{}]},
      "mark": {"type": "text", "text": "Kleine kans op buien tussen 20u en 2u", "align": "left", "baseline": "middle", "font": "DejaVu Sans", "fontSize": 19, "color": "#e82a2a"},
      "encoding": {
        "x": {"datum": 95.7, "type": "quantitative", "title": null,
          "axis": {"grid": true, "ticks": true, "tickSize": 5, "values": [6,12,18,24,30,36,42,48,54,60,66,72,78,84,90,96,102,108,114,120,126,132,138,144,150,156,162,168,174,180,186,192,198,204,210,216,222,228,234,240,246,252,258,264,270,276,282,288,294,300,306,312,318,324,330,336,342,348,354,360], "labelExpr": "datum.value % 24 == 12 ? ['Wo 18','Do 19','Vr 20','Za 21','Zo 22','Ma 23','Di 24','Wo 25','Do 26','Vr 27','Za 28','Zo 29','Ma 30','Di 31','Wo 1'][floor(datum.value / 24)] : ''"}},
        "y": {"datum": 27.8, "type": "quantitative", "title": null,
          "axis": {"grid": true, "ticks": true, "tickSize": 6, "values": [0,2,4,6,8,10,12,14,16,18,20,22,24,26,28,30,32]}}
      }
    },
    {
      "data": {"values": [{}]},
      "mark": {"type": "text", "text": "Grootste kans dat de eerste neerslag", "align": "left", "baseline": "middle", "font": "DejaVu Sans", "fontSize": 19, "color": "#1414d8"},
      "encoding": {
        "x": {"datum": 99.3, "type": "quantitative", "title": null,
          "axis": {"grid": true, "ticks": true, "tickSize": 5, "values": [6,12,18,24,30,36,42,48,54,60,66,72,78,84,90,96,102,108,114,120,126,132,138,144,150,156,162,168,174,180,186,192,198,204,210,216,222,228,234,240,246,252,258,264,270,276,282,288,294,300,306,312,318,324,330,336,342,348,354,360], "labelExpr": "datum.value % 24 == 12 ? ['Wo 18','Do 19','Vr 20','Za 21','Zo 22','Ma 23','Di 24','Wo 25','Do 26','Vr 27','Za 28','Zo 29','Ma 30','Di 31','Wo 1'][floor(datum.value / 24)] : ''"}},
        "y": {"datum": 22.4, "type": "quantitative", "title": null,
          "axis": {"grid": true, "ticks": true, "tickSize": 6, "values": [0,2,4,6,8,10,12,14,16,18,20,22,24,26,28,30,32]}}
      }
    },
    {
      "data": {"values": [{}]},
      "mark": {"type": "text", "text": "pas na 2u (00UTC) komt", "align": "left", "baseline": "middle", "font": "DejaVu Sans", "fontSize": 19, "color": "#1414d8"},
      "encoding": {
        "x": {"datum": 99.3, "type": "quantitative", "title": null,
          "axis": {"grid": true, "ticks": true, "tickSize": 5, "values": [6,12,18,24,30,36,42,48,54,60,66,72,78,84,90,96,102,108,114,120,126,132,138,144,150,156,162,168,174,180,186,192,198,204,210,216,222,228,234,240,246,252,258,264,270,276,282,288,294,300,306,312,318,324,330,336,342,348,354,360], "labelExpr": "datum.value % 24 == 12 ? ['Wo 18','Do 19','Vr 20','Za 21','Zo 22','Ma 23','Di 24','Wo 25','Do 26','Vr 27','Za 28','Zo 29','Ma 30','Di 31','Wo 1'][floor(datum.value / 24)] : ''"}},
        "y": {"datum": 19.6, "type": "quantitative", "title": null,
          "axis": {"grid": true, "ticks": true, "tickSize": 6, "values": [0,2,4,6,8,10,12,14,16,18,20,22,24,26,28,30,32]}}
      }
    }
  ]
}
